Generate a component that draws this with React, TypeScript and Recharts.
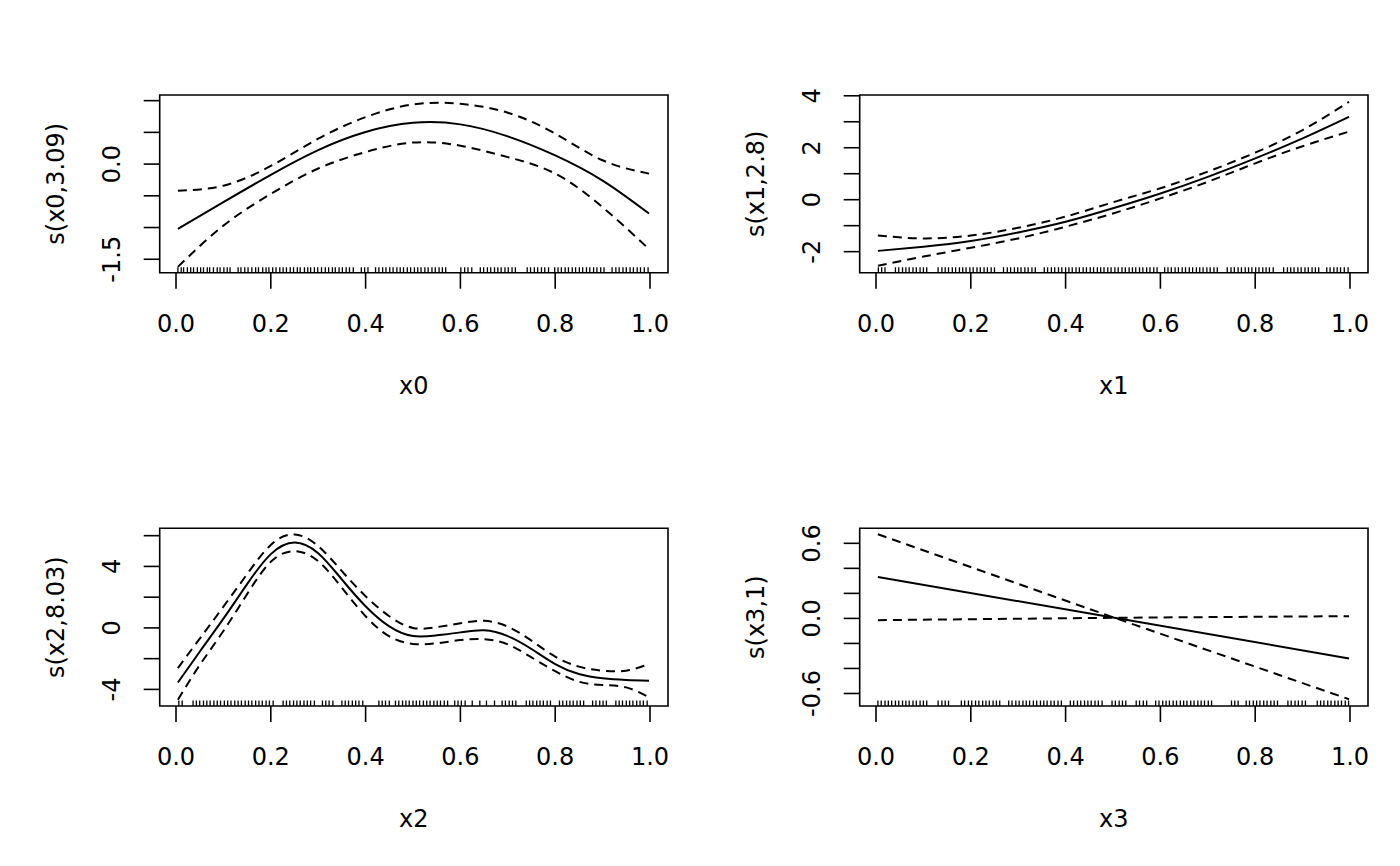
import React from 'react';
import { ComposedChart, Line, Scatter, XAxis, YAxis, ReferenceArea, Label } from 'recharts';

const FONT = 'DejaVu Sans';
const FS = 24;

const X_DOMAIN = [-0.0344, 1.038];
const X_TICKS = [0, 0.2, 0.4, 0.6, 0.8, 1.0];
const X_TICK_LABELS = ['0.0', '0.2', '0.4', '0.6', '0.8', '1.0'];

// ---- panel 1: s(x0,3.09)
const p1Grid = [0.004, 0.1, 0.2, 0.3, 0.4, 0.5, 0.6, 0.7, 0.8, 0.9, 0.998];
const p1Fit = [-1.02, -0.6, -0.17, 0.22, 0.505, 0.65, 0.626, 0.437, 0.137, -0.26, -0.78];
const p1Upper = [-0.42, -0.34, -0.03, 0.4, 0.74, 0.94, 0.95, 0.81, 0.48, 0.06, -0.15];
const p1Lower = [-1.62, -0.97, -0.47, -0.07, 0.19, 0.34, 0.29, 0.11, -0.15, -0.68, -1.34];
const p1Rug = [0.004, 0.011, 0.016, 0.024, 0.031, 0.037, 0.045, 0.052, 0.058, 0.066, 0.071, 0.079, 0.087, 0.093, 0.101, 0.108, 0.114, 0.131, 0.137, 0.145, 0.152, 0.16, 0.168, 0.174, 0.183, 0.19, 0.196, 0.204, 0.211, 0.219, 0.226, 0.233, 0.241, 0.248, 0.256, 0.262, 0.271, 0.278, 0.284, 0.292, 0.299, 0.307, 0.315, 0.322, 0.33, 0.336, 0.344, 0.351, 0.359, 0.366, 0.374, 0.391, 0.398, 0.405, 0.421, 0.428, 0.436, 0.443, 0.451, 0.458, 0.466, 0.473, 0.48, 0.488, 0.495, 0.503, 0.51, 0.517, 0.525, 0.532, 0.54, 0.547, 0.555, 0.562, 0.569, 0.601, 0.609, 0.616, 0.624, 0.642, 0.649, 0.657, 0.664, 0.672, 0.679, 0.686, 0.694, 0.701, 0.709, 0.716, 0.741, 0.748, 0.756, 0.763, 0.771, 0.778, 0.786, 0.799, 0.806, 0.813, 0.821, 0.828, 0.836, 0.843, 0.851, 0.858, 0.866, 0.873, 0.881, 0.888, 0.896, 0.903, 0.92, 0.928, 0.935, 0.943, 0.95, 0.958, 0.965, 0.973, 0.98, 0.988, 0.996];
const p1YDomain = [-1.712, 1.089];
const p1YTicks = [-1.5, -1, -0.5, 0, 0.5, 1];
const p1YTickLabels = ['-1.5', '', '', '0.0', '', ''];

// ---- panel 2: s(x1,2.8)
const p2Grid = [0.004, 0.1, 0.2, 0.3, 0.4, 0.5, 0.6, 0.7, 0.8, 0.9, 0.998];
const p2Fit = [-1.97, -1.81, -1.59, -1.26, -0.85, -0.33, 0.24, 0.88, 1.59, 2.36, 3.19];
const p2Upper = [-1.38, -1.49, -1.38, -1.08, -0.65, -0.1, 0.44, 1.08, 1.81, 2.68, 3.77];
const p2Lower = [-2.54, -2.19, -1.85, -1.49, -1.04, -0.53, 0.05, 0.69, 1.4, 2.06, 2.62];
const p2Rug = [0.005, 0.012, 0.019, 0.041, 0.048, 0.056, 0.063, 0.07, 0.078, 0.085, 0.093, 0.1, 0.107, 0.131, 0.139, 0.146, 0.153, 0.161, 0.168, 0.176, 0.183, 0.19, 0.198, 0.205, 0.213, 0.22, 0.228, 0.235, 0.243, 0.25, 0.269, 0.277, 0.284, 0.292, 0.299, 0.306, 0.314, 0.321, 0.329, 0.336, 0.355, 0.362, 0.37, 0.377, 0.385, 0.392, 0.4, 0.407, 0.414, 0.422, 0.429, 0.437, 0.444, 0.452, 0.459, 0.467, 0.474, 0.481, 0.489, 0.496, 0.504, 0.511, 0.519, 0.526, 0.534, 0.541, 0.548, 0.556, 0.563, 0.571, 0.578, 0.586, 0.593, 0.609, 0.616, 0.623, 0.631, 0.638, 0.646, 0.653, 0.661, 0.668, 0.676, 0.683, 0.69, 0.698, 0.705, 0.713, 0.72, 0.741, 0.749, 0.756, 0.764, 0.771, 0.779, 0.786, 0.793, 0.801, 0.808, 0.816, 0.823, 0.83, 0.838, 0.86, 0.868, 0.875, 0.882, 0.89, 0.897, 0.905, 0.912, 0.92, 0.927, 0.934, 0.951, 0.958, 0.966, 0.973, 0.98, 0.988, 0.996];
const p2YDomain = [-2.81, 4.03];
const p2YTicks = [-2, -1, 0, 1, 2, 3, 4];
const p2YTickLabels = ['-2', '', '0', '', '2', '', '4'];

// ---- panel 3: s(x2,8.03)
const p3Grid = [0.004, 0.05, 0.1, 0.15, 0.2, 0.25, 0.3, 0.35, 0.4, 0.45, 0.5, 0.55, 0.6, 0.65, 0.7, 0.75, 0.8, 0.85, 0.9, 0.95, 0.998];
const p3Fit = [-3.55, -1.55, 0.6, 2.85, 4.8, 5.56, 4.86, 3.15, 1.41, 0.1, -0.53, -0.48, -0.29, -0.15, -0.53, -1.37, -2.35, -3.0, -3.28, -3.39, -3.44];
const p3Upper = [-2.61, -0.7, 1.38, 3.5, 5.4, 6.08, 5.32, 3.69, 2.06, 0.76, 0.0, 0.05, 0.3, 0.46, 0.08, -0.83, -1.87, -2.52, -2.78, -2.78, -2.35];
const p3Lower = [-4.67, -2.42, -0.2, 2.2, 4.3, 4.99, 4.34, 2.61, 0.76, -0.55, -1.04, -1.0, -0.79, -0.73, -1.07, -1.92, -2.81, -3.5, -3.72, -3.87, -4.52];
const p3Rug = [0.006, 0.013, 0.036, 0.043, 0.05, 0.058, 0.065, 0.072, 0.08, 0.087, 0.094, 0.102, 0.109, 0.116, 0.124, 0.131, 0.138, 0.146, 0.153, 0.16, 0.168, 0.175, 0.182, 0.19, 0.197, 0.205, 0.226, 0.233, 0.24, 0.248, 0.255, 0.262, 0.27, 0.277, 0.284, 0.292, 0.309, 0.316, 0.323, 0.331, 0.35, 0.357, 0.364, 0.372, 0.379, 0.386, 0.394, 0.428, 0.435, 0.442, 0.45, 0.463, 0.47, 0.478, 0.485, 0.492, 0.5, 0.507, 0.514, 0.522, 0.529, 0.536, 0.544, 0.551, 0.558, 0.566, 0.573, 0.588, 0.595, 0.602, 0.61, 0.625, 0.641, 0.655, 0.672, 0.688, 0.695, 0.703, 0.71, 0.717, 0.739, 0.746, 0.753, 0.761, 0.768, 0.775, 0.783, 0.79, 0.809, 0.816, 0.824, 0.831, 0.838, 0.846, 0.853, 0.86, 0.879, 0.886, 0.894, 0.901, 0.908, 0.928, 0.935, 0.942, 0.95, 0.957, 0.964, 0.972, 0.979, 0.986, 0.994];
const p3YDomain = [-5.08, 6.48];
const p3YTicks = [-4, -2, 0, 2, 4, 6];
const p3YTickLabels = ['-4', '', '0', '', '4', ''];

// ---- panel 4: s(x3,1)
const p4Grid = [0.004, 0.503, 0.998];
const p4Fit = [0.33, 0.005, -0.32];
const p4Upper = [0.672, 0.005, 0.018];
const p4Lower = [-0.014, 0.005, -0.646];
const p4Rug = [0.004, 0.011, 0.019, 0.026, 0.033, 0.041, 0.048, 0.056, 0.063, 0.07, 0.078, 0.085, 0.093, 0.1, 0.107, 0.131, 0.139, 0.146, 0.153, 0.18, 0.187, 0.195, 0.202, 0.21, 0.217, 0.225, 0.232, 0.239, 0.247, 0.254, 0.261, 0.28, 0.287, 0.295, 0.302, 0.31, 0.317, 0.324, 0.332, 0.339, 0.347, 0.354, 0.361, 0.369, 0.376, 0.384, 0.391, 0.41, 0.417, 0.425, 0.432, 0.44, 0.447, 0.454, 0.462, 0.469, 0.477, 0.498, 0.505, 0.513, 0.52, 0.527, 0.549, 0.556, 0.564, 0.571, 0.59, 0.597, 0.605, 0.612, 0.619, 0.627, 0.634, 0.642, 0.649, 0.656, 0.664, 0.671, 0.679, 0.686, 0.693, 0.701, 0.708, 0.75, 0.757, 0.764, 0.781, 0.788, 0.796, 0.803, 0.81, 0.818, 0.825, 0.833, 0.84, 0.847, 0.869, 0.876, 0.884, 0.891, 0.899, 0.906, 0.931, 0.938, 0.945, 0.953, 0.96, 0.968, 0.975, 0.982, 0.99, 0.997];
const p4YDomain = [-0.7, 0.72];
const p4YTicks = [-0.6, -0.4, -0.2, 0, 0.2, 0.4, 0.6];
const p4YTickLabels = ['-0.6', '', '', '0.0', '', '', '0.6'];

const TICK_LEN = 16;
const LW = 1.6;

const textStyle = { fontFamily: FONT, fontSize: FS, fill: '#000' };

const XTick = (props: any) => {
  const { x, y, payload } = props;
  const idx = X_TICKS.findIndex((t) => Math.abs(t - payload.value) < 1e-9);
  return (
    <g>
      <line x1={x} y1={y} x2={x} y2={y + TICK_LEN} stroke="#000" strokeWidth={LW} />
      <text x={x} y={y + 59} textAnchor="middle" {...textStyle}>
        {X_TICK_LABELS[idx]}
      </text>
    </g>
  );
};

const YTick = (props: any) => {
  const { x, y, payload, ticks, labels } = props;
  const idx = ticks.findIndex((t: number) => Math.abs(t - payload.value) < 1e-9);
  const lab = labels[idx];
  const bx = x - 39.5;
  return (
    <g>
      <line x1={x - TICK_LEN} y1={y} x2={x} y2={y} stroke="#000" strokeWidth={LW} />
      {lab ? (
        <text x={bx} y={y} textAnchor="middle" transform={`rotate(-90 ${bx} ${y})`} {...textStyle}>
          {lab}
        </text>
      ) : null}
    </g>
  );
};

type PanelProps = {
  left: number;
  top: number;
  margin: { top: number; right: number; bottom: number; left: number };
  grid: number[];
  fit: number[];
  upper: number[];
  lower: number[];
  rug: number[];
  yDomain: number[];
  yTicks: number[];
  yTickLabels: string[];
  xTitle: string;
  yTitle: string;
  curve: any;
};

function Panel(p: PanelProps) {
  const data = p.grid.map((x, i) => ({ x, fit: p.fit[i], upper: p.upper[i], lower: p.lower[i] }));
  const rugData = p.rug.map((x) => ({ x, y: p.yDomain[0] }));
  return (
    <div style={{ position: 'absolute', left: p.left, top: p.top, width: 700, height: 433 }}>
      <ComposedChart width={700} height={433} data={data} margin={p.margin}>
        <XAxis
          type="number"
          dataKey="x"
          domain={X_DOMAIN}
          ticks={X_TICKS}
          interval={0}
          height={1}
          axisLine={false}
          tickLine={false}
          tickSize={0}
          tickMargin={0}
          allowDataOverflow
          tick={(tp: any) => <XTick {...tp} />}
        >
          <Label
            content={(lp: any) => {
              const vb = lp.viewBox || {};
              return (
                <text x={vb.x + vb.width / 2} y={vb.y + 121.3} textAnchor="middle" {...textStyle}>
                  {p.xTitle}
                </text>
              );
            }}
          />
        </XAxis>
        <YAxis
          type="number"
          domain={p.yDomain}
          ticks={p.yTicks}
          interval={0}
          width={1}
          axisLine={false}
          tickLine={false}
          tickSize={0}
          tickMargin={0}
          allowDataOverflow
          tick={(tp: any) => <YTick {...tp} ticks={p.yTicks} labels={p.yTickLabels} />}
        >
          <Label
            content={(lp: any) => {
              const vb = lp.viewBox || {};
              const bx = vb.x + vb.width - 95.7;
              const cy = vb.y + vb.height / 2;
              return (
                <text x={bx} y={cy} textAnchor="middle" transform={`rotate(-90 ${bx} ${cy})`} {...textStyle}>
                  {p.yTitle}
                </text>
              );
            }}
          />
        </YAxis>
        <ReferenceArea
          x1={X_DOMAIN[0]}
          x2={X_DOMAIN[1]}
          y1={p.yDomain[0]}
          y2={p.yDomain[1]}
          fill="none"
          stroke="#000"
          strokeWidth={LW}
          ifOverflow="visible"
        />
        <Scatter
          data={rugData}
          dataKey="y"
          isAnimationActive={false}
          shape={(sp: any) => (
            <line x1={sp.cx} x2={sp.cx} y1={sp.cy} y2={sp.cy - 5.5} stroke="#000" strokeWidth={1.3} />
          )}
        />
        <Line dataKey="fit" type={p.curve} stroke="#000" strokeWidth={2} dot={false} activeDot={false} isAnimationActive={false} />
        <Line dataKey="upper" type={p.curve} stroke="#000" strokeWidth={2} strokeDasharray="9 6" dot={false} activeDot={false} isAnimationActive={false} />
        <Line dataKey="lower" type={p.curve} stroke="#000" strokeWidth={2} strokeDasharray="9 6" dot={false} activeDot={false} isAnimationActive={false} />
      </ComposedChart>
    </div>
  );
}

const topMargin = { top: 95, right: 32, bottom: 159.3, left: 158.7 };
const bottomMargin = { top: 95.3, right: 32, bottom: 159, left: 158.7 };

export default function App() {
  return (
    <div style={{ position: 'absolute', left: 0, top: 0, width: 1400, height: 866, background: '#fff' }}>
      <Panel left={0} top={0} margin={topMargin} grid={p1Grid} fit={p1Fit} upper={p1Upper} lower={p1Lower} rug={p1Rug}
        yDomain={p1YDomain} yTicks={p1YTicks} yTickLabels={p1YTickLabels} xTitle="x0" yTitle="s(x0,3.09)" curve="natural" />
      <Panel left={700} top={0} margin={topMargin} grid={p2Grid} fit={p2Fit} upper={p2Upper} lower={p2Lower} rug={p2Rug}
        yDomain={p2YDomain} yTicks={p2YTicks} yTickLabels={p2YTickLabels} xTitle="x1" yTitle="s(x1,2.8)" curve="natural" />
      <Panel left={0} top={433} margin={bottomMargin} grid={p3Grid} fit={p3Fit} upper={p3Upper} lower={p3Lower} rug={p3Rug}
        yDomain={p3YDomain} yTicks={p3YTicks} yTickLabels={p3YTickLabels} xTitle="x2" yTitle="s(x2,8.03)" curve="natural" />
      <Panel left={700} top={433} margin={bottomMargin} grid={p4Grid} fit={p4Fit} upper={p4Upper} lower={p4Lower} rug={p4Rug}
        yDomain={p4YDomain} yTicks={p4YTicks} yTickLabels={p4YTickLabels} xTitle="x3" yTitle="s(x3,1)" curve="linear" />
    </div>
  );
}
